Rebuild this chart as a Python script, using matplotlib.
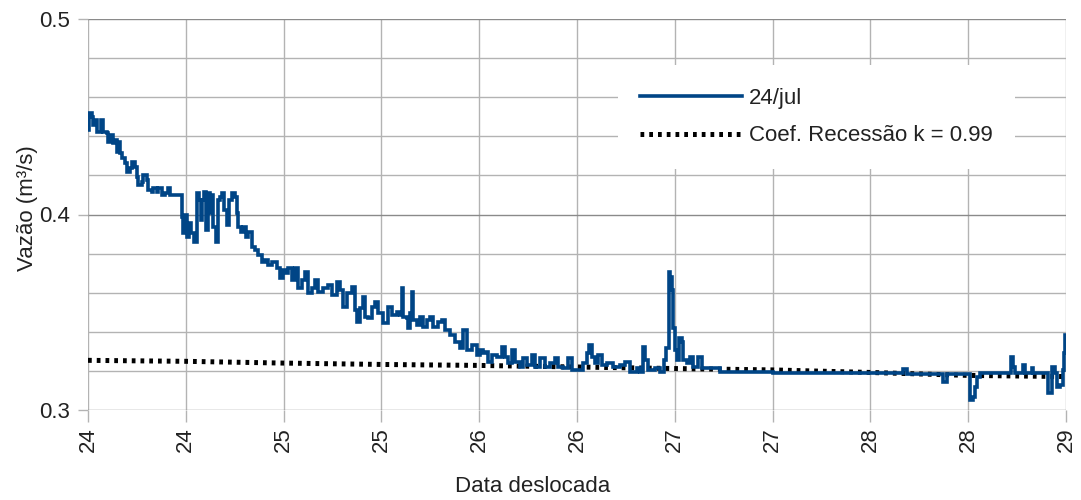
import numpy as np
import matplotlib
matplotlib.use("Agg")
import matplotlib.pyplot as plt
from matplotlib.ticker import MultipleLocator, FuncFormatter

plt.rcParams['font.family'] = ['Liberation Sans', 'DejaVu Sans']

# Vazão observada (24/jul), dias deslocados
dias = [
    24.000, 24.005, 24.019, 24.027, 24.036, 24.044, 24.061, 24.066, 24.078, 24.096,
    24.104, 24.112, 24.129, 24.138, 24.147, 24.155, 24.164, 24.172, 24.189, 24.198,
    24.215, 24.223, 24.240, 24.249, 24.257, 24.274, 24.283, 24.300, 24.308, 24.326,
    24.334, 24.351, 24.360, 24.377, 24.394, 24.411, 24.419, 24.445, 24.479, 24.482,
    24.487, 24.496, 24.505, 24.516, 24.527, 24.543, 24.556, 24.567, 24.578, 24.585,
    24.595, 24.602, 24.612, 24.622, 24.629, 24.641, 24.653, 24.663, 24.675, 24.687,
    24.697, 24.709, 24.721, 24.735, 24.752, 24.760, 24.768, 24.782, 24.794, 24.806,
    24.820, 24.837, 24.854, 24.871, 24.888, 24.905, 24.922, 24.939, 24.965, 24.982,
    24.998, 25.007, 25.024, 25.041, 25.058, 25.075, 25.092, 25.109, 25.126, 25.144,
    25.161, 25.178, 25.203, 25.229, 25.246, 25.271, 25.288, 25.305, 25.323, 25.348,
    25.365, 25.374, 25.391, 25.408, 25.416, 25.433, 25.450, 25.467, 25.484, 25.510,
    25.535, 25.553, 25.578, 25.595, 25.604, 25.612, 25.629, 25.638, 25.646, 25.655,
    25.663, 25.680, 25.697, 25.714, 25.731, 25.748, 25.765, 25.791, 25.808, 25.825,
    25.851, 25.876, 25.902, 25.919, 25.936, 25.962, 25.987, 26.004, 26.021, 26.030,
    26.047, 26.064, 26.089, 26.115, 26.132, 26.149, 26.166, 26.183, 26.209, 26.226,
    26.243, 26.268, 26.285, 26.311, 26.336, 26.362, 26.388, 26.405, 26.430, 26.456,
    26.473, 26.507, 26.532, 26.550, 26.563, 26.576, 26.592, 26.609, 26.626, 26.652,
    26.686, 26.720, 26.745, 26.771, 26.805, 26.822, 26.836, 26.847, 26.865, 26.873,
    26.899, 26.926, 26.947, 26.957, 26.968, 26.977, 26.985, 26.990, 27.002, 27.010,
    27.024, 27.036, 27.044, 27.061, 27.078, 27.095, 27.120, 27.137, 27.163, 27.197,
    27.231, 27.300, 27.400, 27.504, 27.650, 27.845, 28.000, 28.168, 28.185, 28.356,
    28.373, 28.390, 28.492, 28.509, 28.526, 28.535, 28.543, 28.560, 28.697, 28.717,
    28.727, 28.739, 28.782, 28.790, 28.824, 28.833, 28.884, 28.909, 28.927, 28.944,
    28.952, 28.969, 28.983, 28.990, 28.995, 29.000,
]
vazao = [
    0.4432, 0.4518, 0.4500, 0.4458, 0.4483, 0.4424, 0.4424, 0.4483, 0.4424, 0.4415,
    0.4372, 0.4407, 0.4364, 0.4381, 0.4321, 0.4372, 0.4313, 0.4287, 0.4262, 0.4219,
    0.4236, 0.4270, 0.4245, 0.4193, 0.4151, 0.4168, 0.4202, 0.4176, 0.4125, 0.4117,
    0.4134, 0.4117, 0.4134, 0.4100, 0.4108, 0.4134, 0.4100, 0.4100, 0.4100, 0.3989,
    0.3904, 0.3997, 0.3886, 0.3955, 0.3904, 0.3861, 0.4108, 0.4074, 0.3972, 0.4074,
    0.4117, 0.3921, 0.4108, 0.4006, 0.4100, 0.3938, 0.3861, 0.4074, 0.4091, 0.4108,
    0.4023, 0.3946, 0.4074, 0.4108, 0.4091, 0.4006, 0.3938, 0.3912, 0.3938, 0.3886,
    0.3912, 0.3835, 0.3818, 0.3793, 0.3759, 0.3767, 0.3742, 0.3759, 0.3725, 0.3674,
    0.3716, 0.3699, 0.3725, 0.3665, 0.3725, 0.3622, 0.3665, 0.3707, 0.3597, 0.3622,
    0.3665, 0.3605, 0.3622, 0.3639, 0.3588, 0.3656, 0.3614, 0.3528, 0.3597, 0.3631,
    0.3512, 0.3452, 0.3520, 0.3580, 0.3477, 0.3469, 0.3528, 0.3554, 0.3495, 0.3443,
    0.3528, 0.3486, 0.3503, 0.3486, 0.3622, 0.3477, 0.3469, 0.3418, 0.3495, 0.3605,
    0.3460, 0.3435, 0.3477, 0.3426, 0.3460, 0.3477, 0.3426, 0.3452, 0.3460, 0.3409,
    0.3384, 0.3349, 0.3316, 0.3409, 0.3307, 0.3332, 0.3281, 0.3307, 0.3290, 0.3298,
    0.3247, 0.3281, 0.3273, 0.3324, 0.3273, 0.3239, 0.3307, 0.3247, 0.3222, 0.3264,
    0.3230, 0.3281, 0.3222, 0.3264, 0.3222, 0.3239, 0.3264, 0.3222, 0.3213, 0.3264,
    0.3205, 0.3205, 0.3239, 0.3290, 0.3332, 0.3273, 0.3239, 0.3281, 0.3230, 0.3239,
    0.3222, 0.3230, 0.3247, 0.3196, 0.3213, 0.3196, 0.3324, 0.3256, 0.3205, 0.3205,
    0.3213, 0.3196, 0.3256, 0.3316, 0.3707, 0.3682, 0.3614, 0.3418, 0.3307, 0.3256,
    0.3367, 0.3349, 0.3256, 0.3239, 0.3273, 0.3222, 0.3273, 0.3213, 0.3213, 0.3213,
    0.3196, 0.3196, 0.3194, 0.3191, 0.3191, 0.3187, 0.3187, 0.3208, 0.3184, 0.3184,
    0.3145, 0.3184, 0.3184, 0.3051, 0.3066, 0.3118, 0.3167, 0.3187, 0.3191, 0.3273,
    0.3222, 0.3191, 0.3230, 0.3191, 0.3213, 0.3191, 0.3191, 0.3087, 0.3222, 0.3187,
    0.3118, 0.3127, 0.3204, 0.3290, 0.3384, 0.3370,
]

# Curva de recessão (k = 0.99)
dias_rec = [24.0, 24.5, 25.0, 25.5, 26.0, 26.5, 27.0, 27.5, 28.0, 28.5, 29.0]
vazao_rec = [0.3254, 0.3249, 0.3240, 0.3233, 0.3228, 0.3220, 0.3212, 0.3205, 0.3192, 0.3177, 0.3171]

rotulo_obs = "24/jul"
rotulo_rec = "Coef. Recessão k = 0.99"

fig = plt.figure(figsize=(10.81, 5.0), dpi=100)
ax = fig.add_axes([88 / 1081, 1 - 410 / 500, (1066 - 88) / 1081, (410 - 19) / 500])

ax.plot(dias_rec, vazao_rec, color="black", lw=3.6, linestyle=(0, (0.75, 1.0)),
        dash_capstyle="butt", solid_capstyle="butt", label=rotulo_rec, zorder=3)
ax.plot(dias, vazao, color="#004586", lw=2.6, drawstyle="steps-post",
        label=rotulo_obs, zorder=4, solid_joinstyle="miter")

ax.set_xlim(24, 29)
ax.set_ylim(0.3, 0.5)

ax.xaxis.set_major_locator(MultipleLocator(0.5))
ax.xaxis.set_major_formatter(FuncFormatter(lambda v, p: f"{int(np.floor(v + 1e-9))}"))
ax.yaxis.set_major_locator(MultipleLocator(0.1))
ax.yaxis.set_minor_locator(MultipleLocator(0.02))
ax.yaxis.set_major_formatter(FuncFormatter(lambda v, p: f"{v:.1f}"))

for s in ax.spines.values():
    s.set_visible(False)

ax.grid(True, axis="x", which="major", color="#b3b3b3", lw=1.0, zorder=0)
ax.grid(True, axis="y", which="minor", color="#b3b3b3", lw=1.0, zorder=0)
ax.grid(True, axis="y", which="major", color="#8a8a8a", lw=1.0, zorder=0)
ax.set_axisbelow(True)

ax.tick_params(axis="y", which="major", length=7.2, width=1, color="#b3b3b3",
               labelsize=16, pad=5.5, labelcolor="#222222")
ax.tick_params(axis="y", which="minor", length=0)
ax.tick_params(axis="x", which="major", length=8.6, width=1, color="#b3b3b3",
               labelsize=16, pad=4, labelrotation=90, labelcolor="#222222")

fig.text(533 / 1081, 1 - 487 / 500, "Data deslocada", fontsize=16,
         ha="center", va="center", color="#222222")
fig.text(28 / 1081, 1 - 208 / 500, "Vazão (m³/s)", fontsize=16, rotation=90,
         ha="center", va="center", color="#222222")

handles, labels = ax.get_legend_handles_labels()
leg = ax.legend(handles[::-1], labels[::-1], loc="center left",
                bbox_to_anchor=(618 / 1081, 1 - 117 / 500),
                bbox_transform=fig.transFigure, fontsize=16, frameon=True,
                fancybox=False, framealpha=1, facecolor="white", edgecolor="none",
                handlelength=4.6, handletextpad=0.3, labelspacing=0.75,
                borderpad=1.0, borderaxespad=0)
for t in leg.get_texts():
    t.set_color("#222222")

fig.savefig("out.png", dpi=100)
